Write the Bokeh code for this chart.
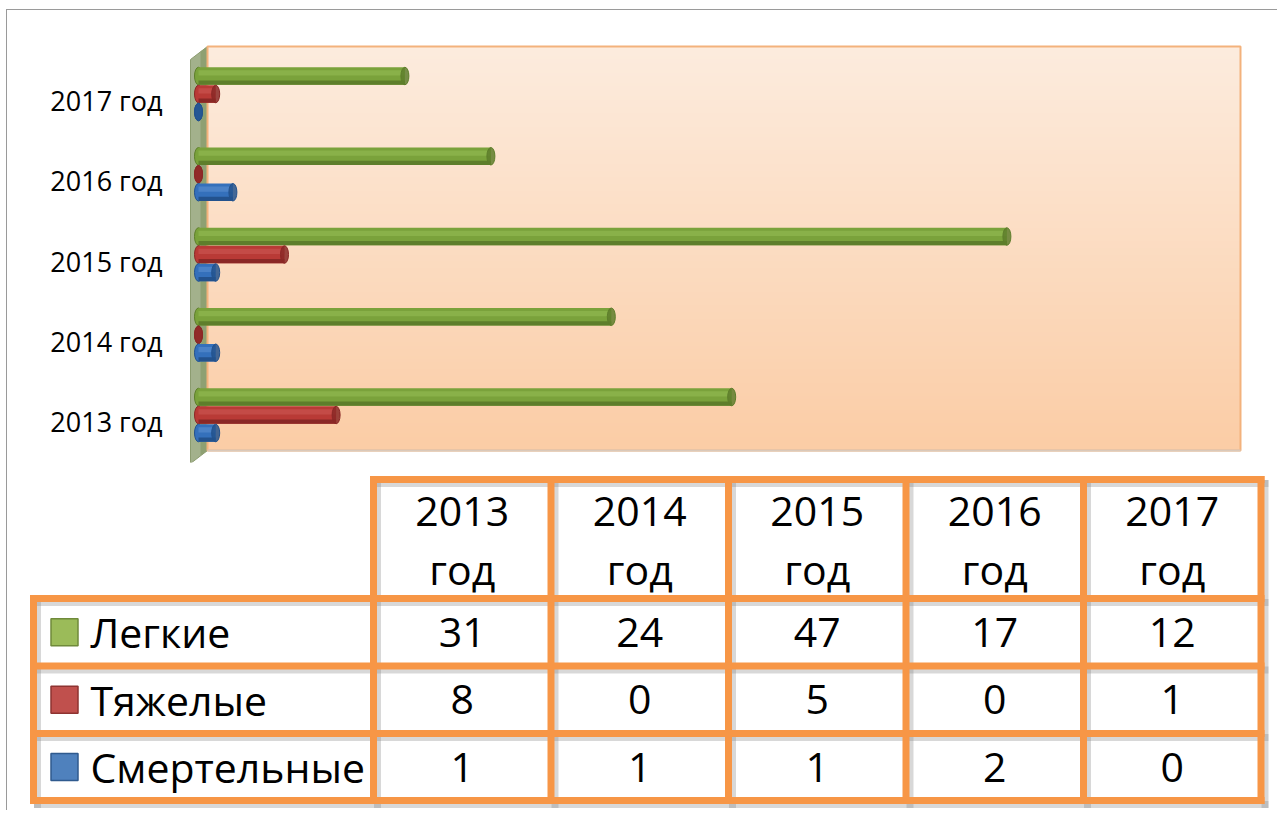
import numpy as np
from bokeh.plotting import figure
from bokeh.models import Range1d, FixedTicker, ColumnDataSource
from bokeh.layouts import column
from bokeh.embed import file_html
from bokeh.resources import INLINE
from bokeh.core.properties import value

# ---------------- data ----------------
categories = ["2013 год", "2014 год", "2015 год", "2016 год", "2017 год"]
series_names = ["Легкие", "Тяжелые", "Смертельные"]
legkie = [31, 24, 47, 17, 12]
tyazhelye = [8, 0, 5, 0, 1]
smertelnye = [1, 1, 1, 2, 0]

FONT = "Open Sans"

# page geometry (page starts at 0,0; layout offset by margins)
OX, OY = 7, 10
W = 1270
H_TOP = 460
H_BOT = 340

# ---------------- bar chart ----------------
XS = 17.2    # px per unit (x)
X0 = 198     # page px of zero
YS = 80.25   # px per category
Y0 = 421     # page px of first category


def X(px):
    return (px - X0) / XS


def Y(py):
    return (Y0 - py) / YS


FL, FR, FT, FB = 186, 1242, 44, OY + H_TOP - 8
p = figure(width=W, height=H_TOP, output_backend="svg", toolbar_location=None,
           x_range=Range1d(X(FL), X(FR)), y_range=Range1d(Y(FB), Y(FT)),
           x_axis_location=None,
           min_border_left=FL - OX, min_border_right=OX + W - FR,
           min_border_top=FT - OY, min_border_bottom=OY + H_TOP - FB)
p.outline_line_color = None
p.grid.visible = False
p.background_fill_color = "white"
p.border_fill_color = "white"

# side wall
p.patch([X(190), X(207), X(207), X(190)], [Y(59), Y(46), Y(450), Y(463)],
        fill_color="#a3b18c", line_color="#8c9c70", line_width=1)
p.patch([X(200), X(207), X(207), X(200)], [Y(51), Y(46), Y(450), Y(455)],
        fill_color="#8ea072", line_color=None)

# back wall with vertical gradient
ny = 120
top = np.array([253, 236, 222])
bot = np.array([251, 205, 166])
img = np.empty((ny, 1), dtype=np.uint32)
view = img.view(dtype=np.uint8).reshape((ny, 1, 4))
for r in range(ny):
    t_ = r / (ny - 1)
    c = bot + (top - bot) * t_
    view[r, 0, 0:3] = c.astype(np.uint8)
    view[r, 0, 3] = 255
x_l, x_r, y_b, y_t = X(207), X(1240), Y(450), Y(46)
p.image_rgba(image=[img], x=x_l, y=y_b, dw=x_r - x_l, dh=y_t - y_b)
p.quad(left=x_l, right=x_r, bottom=y_b, top=y_t, fill_alpha=0,
       line_color="#f3b27c", line_width=2)
p.line([x_l, x_r], [y_b, y_b], line_color="#d9c9bb", line_width=2)

# bars (cylinders)
bar_h = 17.5 / YS
series = [
    (legkie, 24.5 / YS, ("#5e7e2b", "#7aa23b", "#9cc45c")),
    (tyazhelye, 6.5 / YS, ("#8a2826", "#b93a36", "#d2625d")),
    (smertelnye, -11.5 / YS, ("#23528d", "#3470bb", "#6898d6")),
]
cap_w = 8 / XS
for vals, off, (dark, mid, light) in series:
    ys = [i + off for i in range(len(categories))]
    src = ColumnDataSource(dict(
        y=ys, v=vals, z=[0] * len(vals),
        yb=[y - bar_h * 0.38 for y in ys],
        yl=[y + bar_h * 0.18 for y in ys]))
    p.ellipse(x="z", y="y", width=cap_w, height=bar_h, source=src,
              fill_color=mid, line_color=dark, line_width=1)
    p.hbar(y="y", left=0, right="v", height=bar_h, source=src,
           fill_color=mid, line_color=None)
    p.hbar(y="yb", left=0, right="v", height=bar_h * 0.24, source=src,
           fill_color=dark, line_color=None)
    p.hbar(y="yl", left=0, right="v", height=bar_h * 0.3, source=src,
           fill_color=light, fill_alpha=0.45, line_color=None)
    p.ellipse(x="v", y="y", width=cap_w, height=bar_h, source=src,
              fill_color=dark, fill_alpha=0.85, line_color=dark, line_width=1)

p.yaxis.ticker = FixedTicker(ticks=list(range(len(categories))))
p.yaxis.major_label_overrides = {i: c for i, c in enumerate(categories)}
p.yaxis.axis_line_color = None
p.yaxis.major_tick_line_color = None
p.yaxis.minor_tick_line_color = None
p.yaxis.major_tick_out = 0
p.yaxis.major_tick_in = 0
p.yaxis.major_label_standoff = 24
p.yaxis.major_label_text_font = FONT
p.yaxis.major_label_text_font_size = "27px"
p.yaxis.major_label_text_color = "black"

# ---------------- data table ----------------
TY = OY + H_TOP
t = figure(width=W, height=H_BOT, output_backend="svg", toolbar_location=None,
           x_range=Range1d(OX, OX + W), y_range=Range1d(TY + H_BOT, TY),
           x_axis_location=None, y_axis_location=None, min_border=0)
t.outline_line_color = None
t.grid.visible = False

for fig in (p, t):
    if "frame_align" in fig.properties():
        fig.frame_align = False

col_w = 177.5
col_left = 373
cols = [col_left + col_w * k for k in range(len(categories) + 1)]
lab_left = 33
head_top = 479
rows = [598, 665.5, 733, 800]

x0s, y0s, x1s, y1s = [], [], [], []
x0s.append(cols[0]); y0s.append(head_top); x1s.append(cols[-1]); y1s.append(head_top)
for c in cols:
    x0s.append(c); y0s.append(head_top); x1s.append(c); y1s.append(rows[-1])
for r in rows:
    x0s.append(lab_left); y0s.append(r); x1s.append(cols[-1]); y1s.append(r)
x0s.append(lab_left); y0s.append(rows[0]); x1s.append(lab_left); y1s.append(rows[-1])

sh = 4
t.segment(x0=[v + sh for v in x0s], y0=[v + sh for v in y0s],
          x1=[v + sh for v in x1s], y1=[v + sh for v in y1s],
          line_color="#7f7f7f", line_alpha=0.3, line_width=7, line_cap="square")
t.segment(x0=x0s, y0=y0s, x1=x1s, y1=y1s, line_color="#f79646",
          line_width=7, line_cap="square")

centers = [(cols[k] + cols[k + 1]) / 2 for k in range(len(categories))]
t.text(x=centers, y=[539] * len(categories),
       text=[c.replace(" ", "\n") for c in categories],
       text_align="center", text_baseline="middle", text_line_height=1.04,
       text_font=value(FONT), text_font_size="41px", text_color="black")

row_c = [(rows[k] + rows[k + 1]) / 2 for k in range(3)]
key_fill = ["#9bbb59", "#c0504d", "#4f81bd"]
key_line = ["#6f8a3a", "#8e3331", "#2f5a8e"]
t.rect(x=[64] * 3, y=row_c, width=27, height=27, fill_color=key_fill,
       line_color=key_line, line_width=1.5)
t.text(x=[90] * 3, y=row_c, text=series_names, text_align="left",
       text_baseline="middle", text_font=value(FONT), text_font_size="41px",
       text_color="black")

for vals, yc in zip([legkie, tyazhelye, smertelnye], row_c):
    t.text(x=centers, y=[yc] * len(vals), text=[str(v) for v in vals],
           text_align="center", text_baseline="middle", text_font=value(FONT),
           text_font_size="41px", text_color="black")

layout = column(p, t, spacing=0,
                styles={"border-left": "1px solid #9a9a9a",
                        "border-top": "1px solid #9a9a9a",
                        "margin-left": f"{OX - 1}px",
                        "margin-top": f"{OY - 1}px"})

open("out.html", "w").write(file_html(layout, INLINE))
